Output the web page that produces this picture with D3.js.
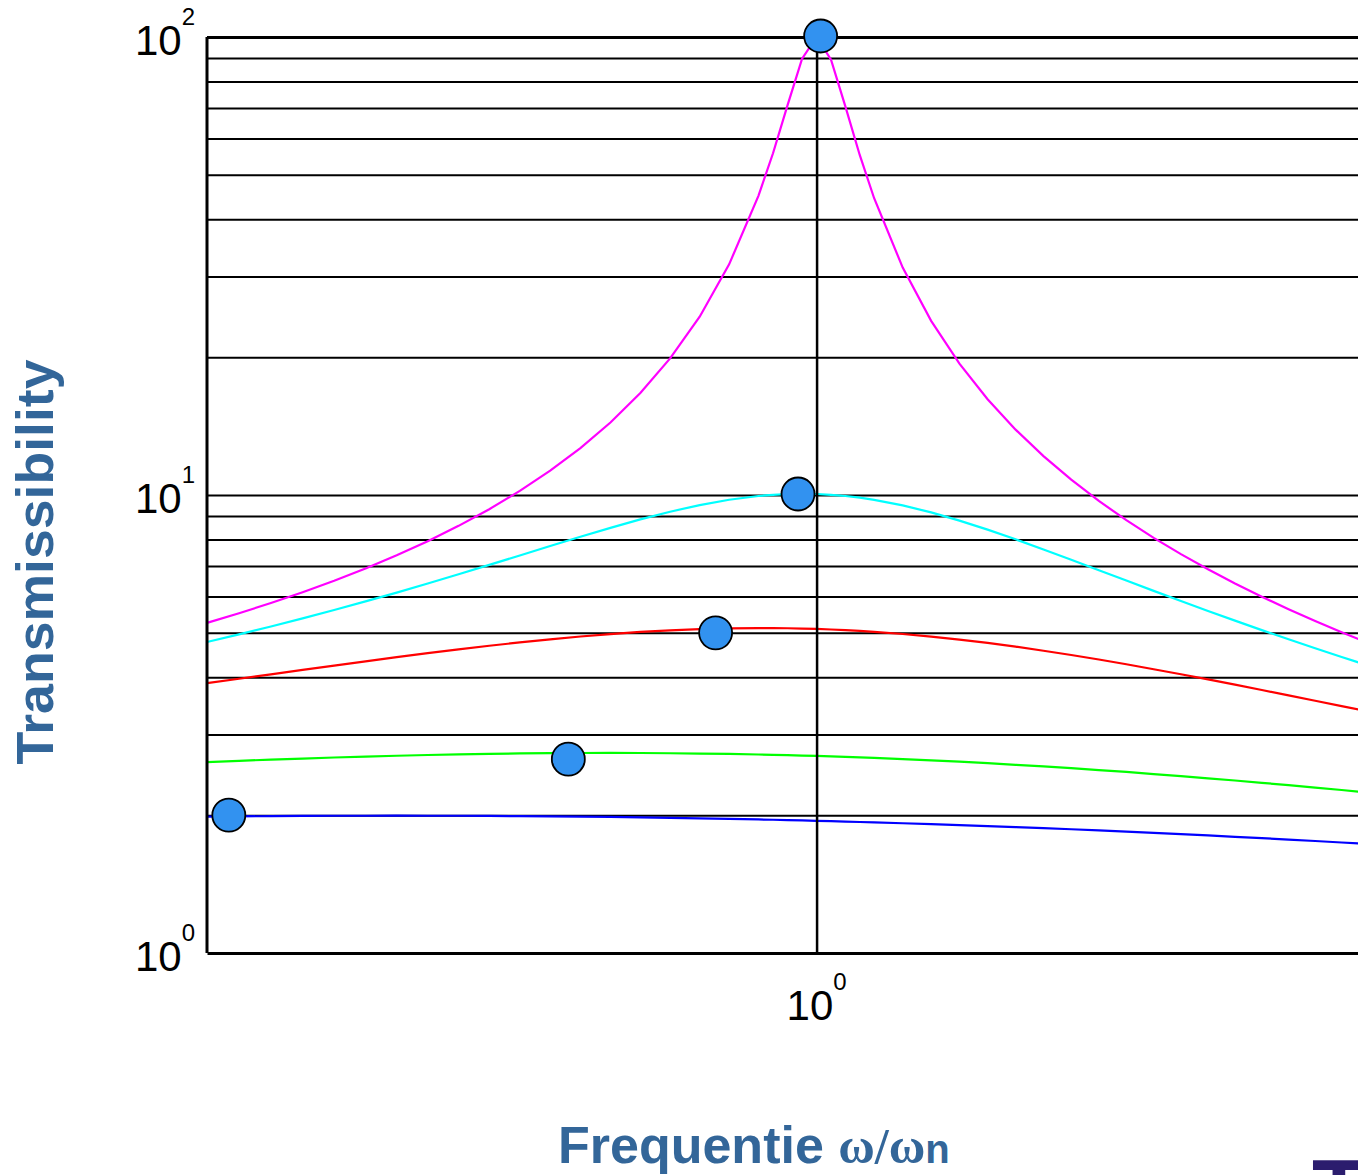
<!DOCTYPE html>
<html>
<head>
<meta charset="utf-8">
<script src="https://cdn.jsdelivr.net/npm/d3@7"></script>
<style>
  body { margin: 0; background: #fff; }
  svg { display: block; font-family: "Liberation Sans", Arial, sans-serif; }
</style>
</head>
<body>
<div id="chart"></div>
<script>
// frequency ratio w/wn
var ratio = [0.900, 0.905, 0.910, 0.915, 0.920, 0.925, 0.930, 0.935, 0.940, 0.945,
  0.950, 0.955, 0.960, 0.965, 0.970, 0.975, 0.980, 0.985, 0.990, 0.9925,
  0.995, 0.9975, 1.000, 1.0025, 1.005, 1.0075, 1.010, 1.015, 1.020, 1.025,
  1.030, 1.035, 1.040, 1.045, 1.050, 1.055, 1.060, 1.065, 1.070, 1.075,
  1.080, 1.085, 1.090, 1.095, 1.100];

var tMagenta = [5.257, 5.519, 5.809, 6.134, 6.499, 6.912, 7.384, 7.929, 8.563, 9.312,
  10.21, 11.30, 12.66, 14.40, 16.70, 19.87, 24.51, 31.89, 44.99, 55.74,
  70.98, 89.64, 100.0, 89.25, 70.45, 55.20, 44.46, 31.37, 24.00, 19.36,
  16.19, 13.89, 12.16, 10.80, 9.706, 8.810, 8.062, 7.427, 6.883, 6.411,
  5.997, 5.632, 5.307, 5.017, 4.755];

var tCyan = [4.776, 4.962, 5.163, 5.378, 5.609, 5.857, 6.123, 6.409, 6.713, 7.037,
  7.379, 7.736, 8.105, 8.478, 8.845, 9.193, 9.506, 9.765, 9.951, 10.01,
  10.05, 10.06, 10.05, 10.01, 9.951, 9.866, 9.760, 9.491, 9.162, 8.793,
  8.401, 8.002, 7.606, 7.221, 6.852, 6.504, 6.176, 5.869, 5.583, 5.318,
  5.070, 4.841, 4.627, 4.429, 4.244];

var tRed = [3.882, 3.970, 4.060, 4.151, 4.242, 4.334, 4.425, 4.514, 4.602, 4.686,
  4.766, 4.841, 4.910, 4.971, 5.023, 5.065, 5.096, 5.116, 5.123, 5.122,
  5.117, 5.110, 5.099, 5.085, 5.068, 5.048, 5.026, 4.972, 4.908, 4.834,
  4.753, 4.665, 4.571, 4.474, 4.373, 4.270, 4.165, 4.061, 3.957, 3.854,
  3.752, 3.652, 3.555, 3.459, 3.367];

var tGreen = [2.611, 2.628, 2.644, 2.658, 2.672, 2.685, 2.696, 2.706, 2.714, 2.721,
  2.727, 2.731, 2.733, 2.734, 2.733, 2.730, 2.726, 2.720, 2.713, 2.708,
  2.703, 2.698, 2.693, 2.687, 2.680, 2.673, 2.666, 2.651, 2.634, 2.616,
  2.597, 2.576, 2.555, 2.532, 2.509, 2.485, 2.459, 2.434, 2.407, 2.380,
  2.353, 2.325, 2.297, 2.269, 2.241];

var tBlue = [1.985, 1.988, 1.990, 1.992, 1.994, 1.994, 1.995, 1.994, 1.994, 1.992,
  1.990, 1.988, 1.985, 1.982, 1.978, 1.973, 1.968, 1.963, 1.957, 1.954,
  1.951, 1.947, 1.944, 1.940, 1.936, 1.932, 1.928, 1.920, 1.912, 1.902,
  1.893, 1.883, 1.873, 1.863, 1.852, 1.841, 1.829, 1.817, 1.806, 1.793,
  1.781, 1.769, 1.756, 1.743, 1.730];

// peak markers
var dotRatio = [0.9034, 0.958, 0.9827, 0.9968, 1.0007];
var dotValue = [2.0, 2.65, 5.0, 10.05, 100.5];

// horizontal grid lines and tick labels
var gridValues = [2, 3, 4, 5, 6, 7, 8, 9, 10, 20, 30, 40, 50, 60, 70, 80, 90];
var yTickExp = [0, 1, 2];
var xTickExp = [0];

var width = 1358;
var height = 1175;

var svg = d3.select("#chart")
  .append("svg")
  .attr("width", width)
  .attr("height", height);

var plotLeft = 207, plotRight = 1368, plotTop = 37, plotBottom = 953;

var x = d3.scaleLog().domain([0.9, 1.1]).range([plotLeft, plotRight]);
var y = d3.scaleLog().domain([1, 100]).range([plotBottom, plotTop]);

// grid
var grid = svg.append("g")
  .attr("transform", "translate(" + plotLeft + ",0)")
  .call(d3.axisLeft(y).tickValues(gridValues).tickSize(-(plotRight - plotLeft)).tickFormat(""));
grid.select(".domain").remove();
grid.selectAll("line").attr("stroke", "#000").attr("stroke-width", 2);

// curves
var series = [
  { name: "blue", color: "#0000ff", values: tBlue },
  { name: "green", color: "#00ff00", values: tGreen },
  { name: "red", color: "#ff0000", values: tRed },
  { name: "cyan", color: "#00ffff", values: tCyan },
  { name: "magenta", color: "#ff00ff", values: tMagenta }
];

var line = d3.line()
  .x(function (d) { return x(d[0]); })
  .y(function (d) { return y(d[1]); });

svg.selectAll("path.curve")
  .data(series)
  .enter()
  .append("path")
  .attr("class", "curve")
  .attr("fill", "none")
  .attr("stroke", function (d) { return d.color; })
  .attr("stroke-width", 2.2)
  .attr("d", function (d) {
    return line(ratio.map(function (r, i) { return [r, d.values[i]]; }));
  });

// vertical line at w/wn = 1
var xg = svg.append("g")
  .attr("transform", "translate(0," + plotTop + ")")
  .call(d3.axisBottom(x).tickValues([1]).tickSize(plotBottom - plotTop).tickFormat(""));
xg.select(".domain").remove();
xg.selectAll("line").attr("stroke", "#000").attr("stroke-width", 2.5);

// axes frame
var yAxis = svg.append("g")
  .attr("transform", "translate(" + plotLeft + ",0)")
  .call(d3.axisLeft(y).tickValues([100]).tickSize(-(plotRight - plotLeft)).tickFormat(""));
yAxis.select(".domain").attr("stroke", "#000").attr("stroke-width", 3)
  .attr("d", "M0," + plotBottom + "V" + plotTop);
yAxis.selectAll("line").attr("stroke", "#000").attr("stroke-width", 3);

var xAxis = svg.append("g")
  .attr("transform", "translate(0," + plotBottom + ")")
  .call(d3.axisBottom(x).tickValues([]).tickSizeOuter(0));
xAxis.select(".domain").attr("stroke", "#000").attr("stroke-width", 3);

// tick labels 10^n
var yLabels = svg.selectAll("text.ylab")
  .data(yTickExp)
  .enter()
  .append("text")
  .attr("class", "ylab")
  .attr("x", 195)
  .attr("y", function (d) { return y(Math.pow(10, d)) + 18; })
  .attr("text-anchor", "end")
  .style("font-size", "42px")
  .style("fill", "#000");
yLabels.append("tspan").text("10");
yLabels.append("tspan")
  .attr("dy", -30)
  .style("font-size", "24px")
  .text(function (d) { return d; });

var xLabels = svg.selectAll("text.xlab")
  .data(xTickExp)
  .enter()
  .append("text")
  .attr("class", "xlab")
  .attr("x", function (d) { return x(Math.pow(10, d)); })
  .attr("y", 1020)
  .attr("text-anchor", "middle")
  .style("font-size", "42px")
  .style("fill", "#000");
xLabels.append("tspan").text("10");
xLabels.append("tspan")
  .attr("dy", -30)
  .style("font-size", "24px")
  .text(function (d) { return d; });

// markers
svg.selectAll("circle.dot")
  .data(dotRatio)
  .enter()
  .append("circle")
  .attr("class", "dot")
  .attr("cx", function (d) { return x(d); })
  .attr("cy", function (d, i) { return y(dotValue[i]); })
  .attr("r", 16.5)
  .attr("fill", "#3292f0")
  .attr("stroke", "#000")
  .attr("stroke-width", 1.8);

// axis titles
svg.append("text")
  .attr("transform", "translate(53,562) rotate(-90)")
  .attr("text-anchor", "middle")
  .attr("textLength", 405)
  .attr("lengthAdjust", "spacingAndGlyphs")
  .text("Transmissibility")
  .style("font-size", "52px")
  .style("font-weight", "bold")
  .style("fill", "#336699");

var xTitle = svg.append("text")
  .attr("x", 558)
  .attr("y", 1163)
  .style("font-weight", "bold")
  .style("fill", "#336699");
xTitle.append("tspan")
  .style("font-size", "52px")
  .text("Frequentie ");
xTitle.append("tspan")
  .style("font-size", "50px")
  .style("font-family", "'Liberation Serif', 'DejaVu Serif', serif")
  .text("ω/ω");
xTitle.append("tspan")
  .style("font-size", "40px")
  .text("n");

// corner logo fragment
svg.append("text")
  .attr("x", 1312)
  .attr("y", 1220)
  .text("T")
  .style("font-size", "88px")
  .style("font-weight", "bold")
  .style("fill", "#2b1d6e");
</script>
</body>
</html>
